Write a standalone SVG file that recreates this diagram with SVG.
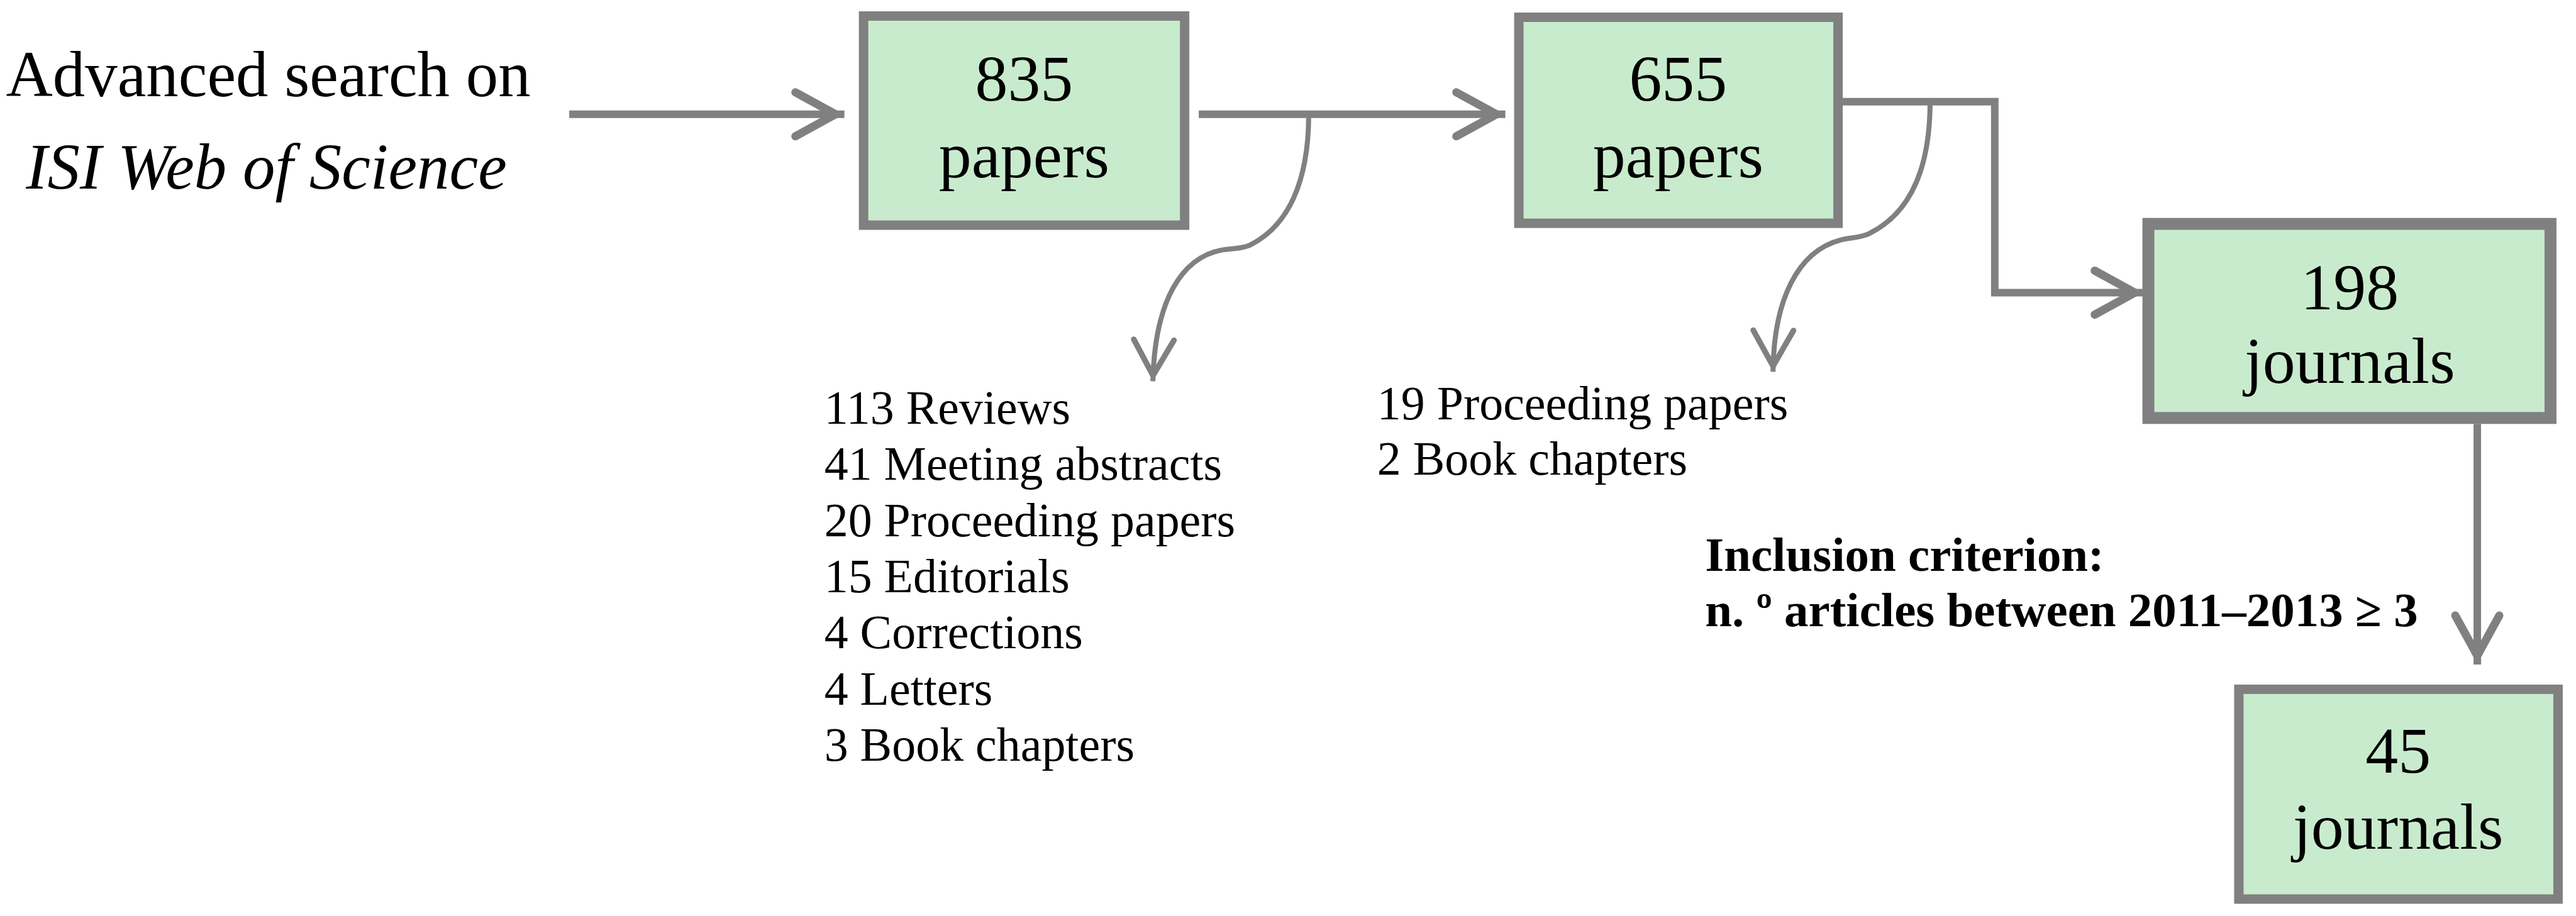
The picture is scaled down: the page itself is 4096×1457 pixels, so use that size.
<svg xmlns="http://www.w3.org/2000/svg" width="4096" height="1457" viewBox="0 0 4096 1457">
<style>
.box{fill:#c9ebcd;stroke:#808080;}
.t{font-family:"Liberation Serif","Times New Roman",serif;fill:#000;}
.bt{font-size:104px;text-anchor:middle;}
.lst{font-size:76px;}
.crit{font-size:77px;font-weight:bold;}
.thick{fill:none;stroke:#808080;stroke-width:12;stroke-linejoin:miter;}
.thin{fill:none;stroke:#808080;stroke-width:8;}
</style>
<defs>
<marker id="ahThick" markerUnits="userSpaceOnUse" markerWidth="120" markerHeight="120" viewBox="-90 -60 120 120" refX="0" refY="0" orient="auto" overflow="visible">
<path d="M-78,-35 L-14,0 L-78,35" fill="none" stroke="#808080" stroke-width="13" stroke-linecap="round" stroke-linejoin="miter"/>
</marker>
<marker id="ahThin" markerUnits="userSpaceOnUse" markerWidth="120" markerHeight="120" viewBox="-90 -60 120 120" refX="0" refY="0" orient="auto" overflow="visible">
<path d="M-66,-32 L-9,0 L-66,32" fill="none" stroke="#808080" stroke-width="9" stroke-linecap="round" stroke-linejoin="miter"/>
</marker>
</defs>
<rect width="4096" height="1457" fill="#ffffff"/>
<g transform="scale(0.999)">
<g id="source">
<text class="t" x="427" y="153" font-size="103" text-anchor="middle">Advanced search on</text>
<text class="t" x="424" y="300" font-size="103" text-anchor="middle" font-style="italic">ISI Web of Science</text>
</g>
<g id="connectors">
<path class="thick" d="M906,182 L1344,182" marker-end="url(#ahThick)"/>
<path class="thick" d="M1908,182 L2396,182" marker-end="url(#ahThick)"/>
<path class="thick" d="M2926,162 L3175,162 L3175,466 L3412,466" marker-end="url(#ahThick)"/>
<path class="thick" d="M3943,675 L3943,1058" marker-end="url(#ahThick)"/>
<path class="thin" d="M2083,182 C2083,290 2050,360 1990,390 C1975,397 1960,395 1945,398 C1880,410 1838,480 1835,607" marker-end="url(#ahThin)"/>
<path class="thin" d="M3072,162 C3072,270 3040,340 2975,372 C2960,379 2945,378 2930,382 C2860,400 2823,480 2822,592" marker-end="url(#ahThin)"/>
</g>
<g id="n835">
<rect class="box" x="1374.5" y="25.5" width="511" height="333" stroke-width="15"/>
<text class="t bt" x="1630" y="160">835</text>
<text class="t bt" x="1630" y="282">papers</text>
</g>
<g id="n655">
<rect class="box" x="2417.5" y="27.5" width="508" height="328" stroke-width="15"/>
<text class="t bt" x="2671" y="160">655</text>
<text class="t bt" x="2671" y="282">papers</text>
</g>
<g id="n198">
<rect class="box" x="3419.5" y="356.5" width="640" height="309" stroke-width="19"/>
<text class="t bt" x="3740" y="492">198</text>
<text class="t bt" x="3740" y="610">journals</text>
</g>
<g id="n45">
<rect class="box" x="3563.5" y="1097.5" width="508" height="334" stroke-width="15"/>
<text class="t bt" x="3817" y="1230">45</text>
<text class="t bt" x="3817" y="1351">journals</text>
</g>
<g id="excluded1">
<text class="t lst" x="1312" y="675">113 Reviews</text>
<text class="t lst" x="1312" y="764">41 Meeting abstracts</text>
<text class="t lst" x="1312" y="854">20 Proceeding papers</text>
<text class="t lst" x="1312" y="943">15 Editorials</text>
<text class="t lst" x="1312" y="1032">4 Corrections</text>
<text class="t lst" x="1312" y="1122">4 Letters</text>
<text class="t lst" x="1312" y="1211">3 Book chapters</text>
</g>
<g id="excluded2">
<text class="t lst" x="2192" y="668">19 Proceeding papers</text>
<text class="t lst" x="2192" y="756">2 Book chapters</text>
</g>
<g id="criterion">
<text class="t crit" x="2714" y="909">Inclusion criterion:</text>
<text class="t crit" x="2714" y="997">n. º articles between 2011–2013 ≥ 3</text>
</g>
</g>
</svg>
